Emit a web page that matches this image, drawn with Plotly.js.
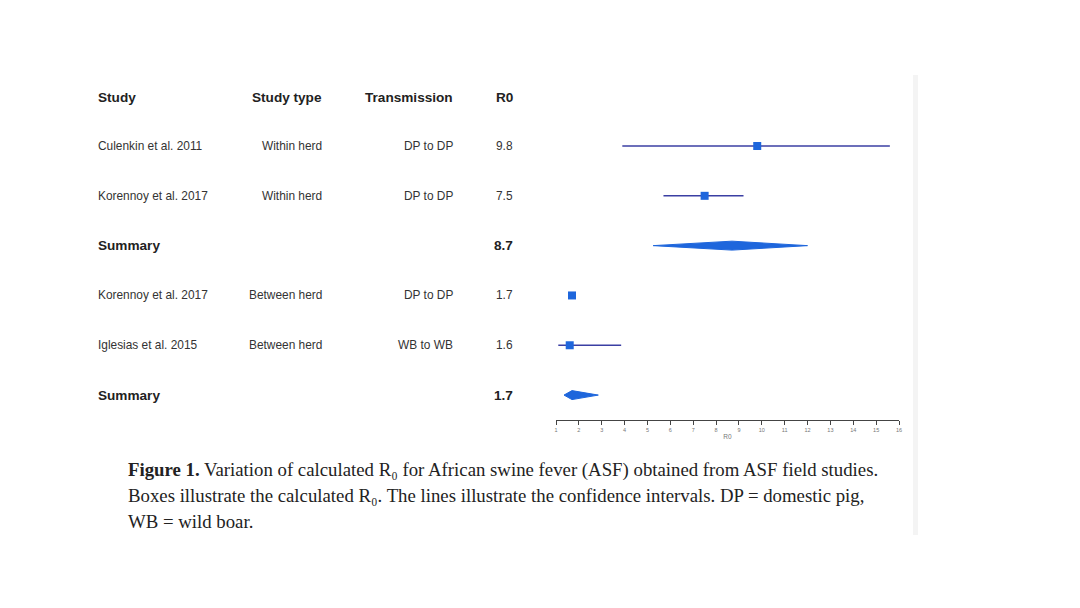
<!DOCTYPE html>
<html>
<head>
<meta charset="utf-8">
<script src="https://cdn.plot.ly/plotly-3.0.1.min.js"></script>
<style>html,body{margin:0;padding:0;background:#fff;}#chart{width:1080px;height:608px;}</style>
</head>
<body>
<div id="chart"></div>
<script>
// ---- data ----
const headers = ["Study", "Study type", "Transmission", "R0"];
const studies = ["Culenkin et al. 2011", "Korennoy et al. 2017", "Summary", "Korennoy et al. 2017", "Iglesias et al. 2015", "Summary"];
const studyTypes = ["Within herd", "Within herd", "", "Between herd", "Between herd", ""];
const transmission = ["DP to DP", "DP to DP", "", "DP to DP", "WB to WB", ""];
const r0Labels = ["9.8", "7.5", "8.7", "1.7", "1.6", "1.7"];
const isSummary = [false, false, true, false, false, true];
const estimate = [9.8, 7.5, 8.7, 1.7, 1.6, 1.7];
const lower = [3.9, 5.7, 5.25, 1.65, 1.1, 1.35];
const upper = [15.6, 9.2, 12.0, 1.75, 3.85, 2.85];
const tickVals = [1,2,3,4,5,6,7,8,9,10,11,12,13,14,15,16];

// ---- layout helpers (pixel geometry) ----
const W = 1080, H = 608;
const plotL = 556, plotR = 899;
const px2paper = p => (p - plotL) / (plotR - plotL);

const lineColor = "#3b3fa3";
const boxColor = "#1e66dc";
const traces = [];

const rows = studies.map((_, i) => i + 1);

// CI lines for individual studies
for (let i = 0; i < studies.length; i++) {
  if (isSummary[i]) continue;
  traces.push({
    x: [lower[i], upper[i]], y: [rows[i], rows[i]],
    mode: "lines", type: "scatter", hoverinfo: "skip",
    line: {color: lineColor, width: 1.6}
  });
}
// boxes
const idx = studies.map((_, i) => i).filter(i => !isSummary[i]);
traces.push({
  x: idx.map(i => estimate[i]), y: idx.map(i => rows[i]),
  mode: "markers", type: "scatter",
  marker: {symbol: "square", size: 8, color: boxColor}
});
// summary diamonds
const hh = 0.09;
for (let i = 0; i < studies.length; i++) {
  if (!isSummary[i]) continue;
  traces.push({
    x: [lower[i], estimate[i], upper[i], estimate[i], lower[i]],
    y: [rows[i], rows[i] - hh, rows[i], rows[i] + hh, rows[i]],
    mode: "lines", type: "scatter", fill: "toself",
    fillcolor: boxColor, line: {color: boxColor, width: 1}, hoverinfo: "skip"
  });
}

// ---- table annotations ----
const ann = [];
const colX = [96, 324, 455, 515];
const colAnchor = ["left", "right", "right", "right"];
const sansFam = "Liberation Sans, Arial";
headers.forEach((h, c) => {
  ann.push({text: "<b>" + h + "</b>", xref: "paper", yref: "y", x: px2paper(colX[c]), y: 0.036,
    xanchor: colAnchor[c], yanchor: "middle", showarrow: false,
    font: {family: sansFam, size: 13.6, color: "#222"}});
});
for (let i = 0; i < studies.length; i++) {
  const bold = isSummary[i];
  const cols = [studies[i], studyTypes[i], transmission[i], r0Labels[i]];
  cols.forEach((t, c) => {
    if (!t) return;
    ann.push({text: bold ? "<b>" + t + "</b>" : t, xref: "paper", yref: "y", x: px2paper(colX[c]), y: rows[i],
      xanchor: colAnchor[c], yanchor: "middle", showarrow: false,
      font: {family: sansFam, size: bold ? 13.6 : 11.9, color: bold ? "#222" : "#333"}});
  });
}
// caption
const capFont = {family: "Liberation Serif, Times New Roman, serif", size: 18.8, color: "#222"};
const caption = [
  "<b>Figure 1.</b> Variation of calculated R\u2080 for African swine fever (ASF) obtained from ASF field studies.",
  "Boxes illustrate the calculated R\u2080. The lines illustrate the confidence intervals. DP = domestic pig,",
  "WB = wild boar."
];
const capY = [470, 495, 521];
caption.forEach((t, k) => {
  ann.push({text: t, xref: "paper", yref: "paper", x: px2paper(126), y: 1 - (capY[k] - 80) / (420 - 80),
    xanchor: "left", yanchor: "middle", showarrow: false, font: capFont});
});

const layout = {
  width: W, height: H,
  margin: {l: plotL, r: W - plotR, t: 80, b: H - 420},
  paper_bgcolor: "#fff", plot_bgcolor: "#fff",
  showlegend: false,
  xaxis: {
    range: [1, 16], tickvals: tickVals, ticktext: tickVals.map(String),
    showgrid: false, zeroline: false, showline: true, linecolor: "#444", linewidth: 1,
    ticks: "outside", ticklen: 4, tickcolor: "#444", tickwidth: 1,
    tickfont: {family: sansFam, size: 5.5, color: "#777"},
    title: {text: "R0", font: {family: sansFam, size: 6.5, color: "#777"}, standoff: 2},
    fixedrange: true
  },
  yaxis: {
    range: [6.5, -0.325], showgrid: false, zeroline: false, showline: false,
    showticklabels: false, ticks: "", fixedrange: true
  },
  annotations: ann,
  shapes: [{type: "rect", xref: "paper", yref: "paper",
    x0: px2paper(913), x1: px2paper(918), y0: 1 - (535 - 80) / 340, y1: 1 - (75 - 80) / 340,
    fillcolor: "#f4f4f4", line: {width: 0}, layer: "below"}]
};

Plotly.newPlot("chart", traces, layout, {displayModeBar: false, staticPlot: true});
</script>
</body>
</html>
